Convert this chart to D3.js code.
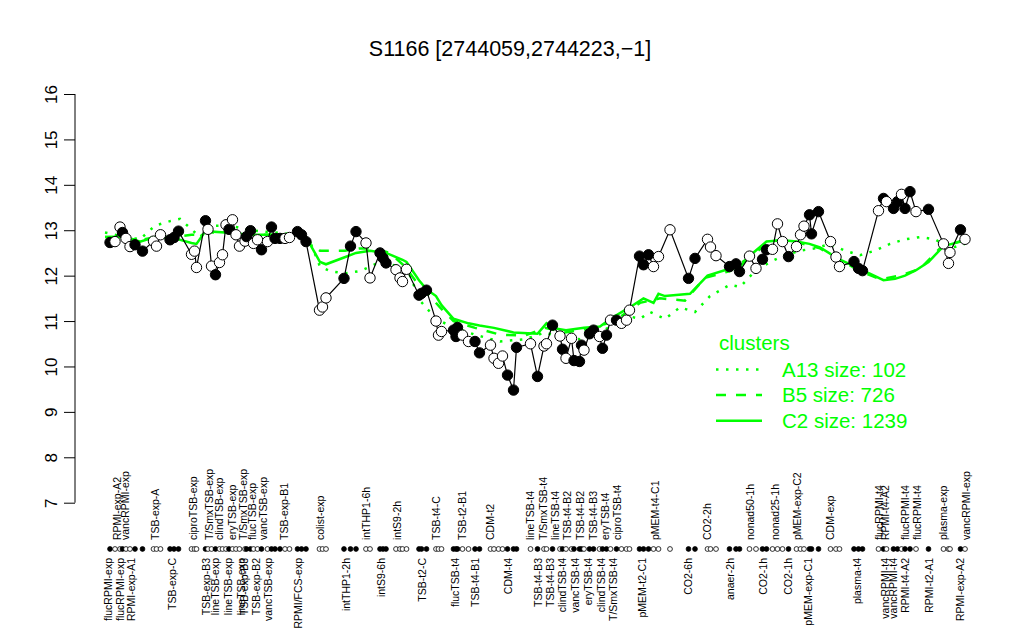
<!DOCTYPE html>
<html>
<head>
<meta charset="utf-8">
<script src="https://cdn.jsdelivr.net/npm/d3@7"></script>
<style>
	body { margin: 0; background: #fff; }
	svg { font-family: "Liberation Sans", Arial, sans-serif; }
</style>
</head>
<body>
<svg id="chart" width="1024" height="640"></svg>
<script>
// sample positions (sorted), values and open/filled flag
var pos = [
	2.0, 3.0, 4.0, 4.5, 5.2, 6.0, 7.0, 8.5, 10.7, 11.3, 12.1, 14.0, 14.8, 15.7, 18.3, 18.9, 19.3,
	21.1, 21.6, 22.3, 23.1, 23.9, 24.5, 25.2, 25.8, 26.5, 27.2, 27.9, 29.0, 29.3, 30.1, 30.7, 31.5,
	32.3, 33.5, 34.3, 35.0, 36.0, 37.0, 37.9, 39.5, 40.3, 41.2, 43.9, 44.5, 45.2, 48.8, 50.1, 51.2,
	53.2, 54.0, 56.0, 56.6, 57.2, 59.2, 60.0, 60.5, 61.3, 63.8, 64.3, 65.3, 67.2, 67.7, 68.3, 70.7,
	71.2, 71.5, 72.5, 73.7, 75.0, 75.9, 78.1, 78.8, 79.7, 80.5, 81.5, 82.7, 83.3, 86.1, 87.5, 88.8,
	89.3, 90.5, 92.0, 92.5, 93.2, 94.3, 94.8, 95.9, 96.3, 96.8, 97.9, 98.7, 99.9, 100.5, 101.3, 102.1,
	103.3, 104.3, 105.3, 105.9, 107.9, 108.7, 109.7, 110.7, 111.7, 114.0, 117.7, 119.0, 121.5, 122.1,
	123.2, 125.9, 127.2, 127.9, 129.9, 131.2, 132.5, 133.3, 134.5, 135.5, 136.5, 137.7, 139.3, 140.1,
	140.8, 141.9, 142.3, 143.7, 146.1, 147.2, 147.9, 150.8, 151.7, 152.5, 155.7, 156.7, 157.3, 158.7,
	159.5, 160.3, 161.0, 162.0, 163.2, 165.7, 168.7, 169.7, 170.0, 172.1, 173.0
];
var val = [
	12.73, 12.75, 13.07, 12.95, 12.82, 12.64, 12.68, 12.54, 12.76, 12.65, 12.90, 12.79, 12.84, 12.98, 12.47, 12.54, 12.18,
	13.21, 13.02, 12.21, 12.02, 12.29, 12.46, 13.12, 13.02, 13.23, 12.90, 12.65, 12.76, 12.86, 12.99, 12.71, 12.79,
	12.57, 12.75, 13.07, 12.82, 12.82, 12.82, 12.84, 12.97, 12.90, 12.75, 11.24, 11.31, 11.51, 11.94, 12.65, 12.97,
	12.72, 11.95, 12.50, 12.39, 12.28, 12.13, 11.95, 11.87, 12.14, 11.57, 11.61, 11.68, 11.00, 10.69, 10.77, 10.80,
	10.66, 10.86, 10.69, 10.55, 10.55, 10.30, 10.47, 10.18, 10.07, 10.23, 9.81, 9.48, 10.42, 10.50, 9.78, 10.45,
	10.50, 10.91, 10.67, 10.38, 10.18, 10.62, 10.13, 10.11, 10.47, 10.36, 10.72, 10.80, 10.66, 10.40, 10.69, 11.02,
	11.02, 10.95, 11.02, 11.24, 12.43, 12.24, 12.46, 12.20, 12.42, 13.01, 11.94, 12.38, 12.80, 12.63,
	12.44, 12.20, 12.26, 12.09, 12.43, 12.16, 12.36, 12.57, 12.58, 13.14, 12.75, 12.42, 12.64, 12.90,
	13.09, 13.34, 12.92, 13.41, 12.75, 12.41, 12.20, 12.31, 12.16, 12.11, 13.43, 13.70, 13.63, 13.48,
	13.63, 13.79, 13.48, 13.85, 13.41, 13.46, 12.70, 12.27, 12.51, 13.01, 12.80
];
var filled = [
	1, 0, 0, 1, 0, 0, 1, 1, 0, 0, 0, 1, 1, 1, 0, 0, 0,
	1, 0, 0, 1, 0, 0, 0, 1, 0, 0, 0, 0, 1, 1, 0, 0,
	1, 0, 1, 1, 1, 0, 0, 1, 1, 1, 0, 0, 0, 1, 1, 1,
	0, 0, 1, 1, 1, 0, 0, 0, 0, 1, 1, 1, 0, 0, 0, 1,
	1, 1, 0, 0, 1, 1, 0, 0, 0, 0, 1, 1, 1, 0, 1, 0,
	0, 1, 0, 1, 0, 0, 1, 1, 1, 0, 1, 1, 0, 1, 1, 0,
	1, 0, 0, 0, 1, 1, 1, 0, 0, 0, 1, 1, 0, 0,
	0, 1, 1, 1, 0, 0, 1, 1, 0, 0, 0, 1, 0, 0,
	0, 1, 1, 1, 0, 0, 0, 1, 1, 1, 0, 1, 0, 1,
	1, 0, 1, 1, 0, 1, 0, 0, 0, 1, 0
];

// cluster profiles
var a13Pos = [1, 5, 8, 11, 14, 16, 18, 20, 22, 26, 30, 35, 40, 42, 44, 46, 49, 52, 56, 60, 62, 64, 66, 68, 71, 75, 80, 85, 89, 92, 96, 100, 104, 106, 108, 110, 113, 116, 119, 122, 126, 128, 131, 134, 137, 140, 143, 146, 149, 152, 155, 158, 161, 164, 167, 170, 173];
var a13Val = [12.95, 12.85, 12.8, 13.1, 13.2, 13.25, 13.05, 12.85, 13.1, 13.1, 13.0, 12.95, 12.9, 12.75, 12.2, 12.1, 12.05, 12.1, 12.3, 12.2, 12.0, 11.45, 11.2, 11.0, 10.85, 10.7, 10.55, 10.6, 10.75, 10.65, 10.6, 10.75, 11.0, 11.1, 11.05, 11.2, 11.05, 11.3, 11.2, 11.55, 11.8, 11.75, 12.1, 12.3, 12.45, 12.55, 12.6, 12.7, 12.55, 12.45, 12.55, 12.7, 12.8, 12.85, 12.8, 12.6, 12.7];
var b5Pos = [1, 4, 8, 11, 15, 18.3, 19.3, 21.1, 25, 30, 35, 40, 41.2, 44, 46, 49, 52, 55, 58, 61, 64, 66, 68, 70.7, 75, 80, 85, 89, 93, 97, 100, 103, 106, 108, 112, 117, 121, 126, 131, 134, 137, 140, 144, 148, 152, 156, 160, 164, 168, 173];
var b5Val = [12.85, 12.85, 12.78, 12.85, 12.85, 12.9, 12.9, 12.95, 12.95, 12.9, 12.9, 12.88, 12.8, 12.55, 12.55, 12.55, 12.6, 12.6, 12.5, 12.2, 11.75, 11.55, 11.3, 11.0, 10.85, 10.7, 10.68, 10.85, 10.75, 10.82, 10.9, 11.0, 11.25, 11.4, 11.5, 11.45, 11.95, 12.1, 12.5, 12.75, 12.8, 12.72, 12.6, 12.35, 12.1, 11.92, 12.0, 12.15, 12.6, 12.8];
var c2Pos = [1, 4, 8, 11, 15, 18.3, 19.3, 21.1, 25, 30, 35, 40, 41.2, 44, 45.2, 48.8, 51.2, 54, 57.2, 60.5, 61.3, 63.8, 65.3, 67.2, 68.3, 70.7, 73.7, 75.9, 78.8, 82.7, 87.5, 89.3, 90.5, 93.2, 96.8, 100, 102.1, 105.9, 108.7, 110.7, 111.7, 113, 118, 121.5, 125.9, 128, 130.6, 133.3, 136.5, 139.3, 141.9, 144, 148, 152.5, 156.7, 159, 161, 163.2, 165.7, 168.7, 172.1, 173];
var c2Val = [12.85, 12.85, 12.75, 12.85, 12.82, 12.72, 12.7, 12.98, 12.95, 12.9, 12.9, 12.9, 12.85, 12.3, 12.25, 12.4, 12.5, 12.55, 12.5, 12.35, 12.3, 11.9, 11.7, 11.55, 11.35, 11.05, 10.95, 10.9, 10.85, 10.75, 10.72, 10.95, 10.85, 10.8, 10.85, 10.88, 11.05, 11.3, 11.5, 11.4, 11.6, 11.55, 11.6, 12.0, 12.15, 12.2, 12.5, 12.75, 12.78, 12.75, 12.7, 12.62, 12.35, 12.12, 11.9, 11.93, 12.0, 12.12, 12.3, 12.65, 12.75, 12.8];

var clusterNames = ["A13 size: 102", "B5 size: 726", "C2 size: 1239"];

// sample labels shown above and below the strip
var topNames = ["RPMI-exp-A2", "vancRPMI-exp", "TSB-exp-A", "ciproTSB-exp", "T/SmxTSB-exp", "clindTSB-exp", "eryTSB-exp", "T/SmxTSB-exp", "flucTSB-exp", "vancTSB-exp", "TSB-exp-B1", "colist-exp", "intTHP1-6h", "intS9-2h", "TSB-t4-C", "TSB-t2-B1", "CDM-t2", "lineTSB-t4", "T/SmxTSB-t4", "lineTSB-t4", "TSB-t4-B2", "TSB-t4-B2", "TSB-t4-B3", "eryTSB-t4", "ciproTSB-t4", "pMEM-t4-C1", "CO2-2h", "nonad50-1h", "nonad25-1h", "pMEM-exp-C2", "CDM-exp", "flucRPMI-t4", "RPMI-t4-A2", "flucRPMI-t4", "flucRPMI-t4", "plasma-exp", "vancRPMI-exp"];
var topPos = [3.4, 5.0, 11.0, 18.6, 21.8, 23.8, 26.4, 28.6, 30.4, 32.6, 36.8, 44.0, 53.2, 59.4, 67.2, 72.4, 78.0, 86.0, 88.6, 91.0, 93.4, 96.0, 98.6, 101.0, 103.4, 111.0, 121.4, 130.0, 135.0, 139.4, 146.0, 155.8, 157.0, 161.0, 163.4, 168.6, 173.2];
var bottomNames = ["flucRPMI-exp", "flucRPMI-exp", "RPMI-exp-A1", "TSB-exp-C", "TSB-exp-B3", "lineTSB-exp", "lineTSB-exp", "lineTSB-exp", "TSB-exp-B3", "TSB-exp-B2", "vancTSB-exp", "RPMI/FCS-exp", "intTHP1-2h", "intS9-6h", "TSB-t2-C", "flucTSB-t4", "TSB-t4-B1", "CDM-t4", "TSB-t4-B3", "TSB-t4-B3", "clindTSB-t4", "vancTSB-t4", "eryTSB-t4", "clindTSB-t4", "T/SmxTSB-t4", "pMEM-t2-C1", "CO2-6h", "anaer-2h", "CO2-1h", "CO2-1h", "pMEM-exp-C1", "plasma-t4", "vancRPMI-t4", "vancRPMI-t4", "RPMI-t4-A2", "RPMI-t2-A1", "RPMI-exp-A2"];
var bottomPos = [1.6, 4.0, 6.2, 14.4, 21.2, 23.0, 25.6, 28.2, 28.8, 31.2, 33.6, 39.6, 49.2, 56.2, 64.4, 71.0, 75.0, 81.6, 87.6, 90.0, 92.4, 95.0, 97.6, 100.2, 102.6, 108.4, 117.6, 126.0, 132.6, 137.6, 141.6, 151.4, 157.0, 158.6, 161.0, 165.8, 172.0];

var yTicks = [7, 8, 9, 10, 11, 12, 13, 14, 15, 16];

var green = "#00ff00";
var svg = d3.select("#chart");

var x = d3.scaleLinear().domain([0, 175]).range([100, 975]);
var y = d3.scaleLinear().domain([7, 16]).range([502.7, 94]);

// title
svg.append("text")
	.attr("x", 510).attr("y", 56)
	.attr("text-anchor", "middle")
	.attr("font-size", 21.5)
	.text("S1166 [2744059,2744223,\u22121]");

// y axis
var yAxis = svg.append("g")
	.attr("transform", "translate(75,0)")
	.call(d3.axisLeft(y).tickValues(yTicks).tickSize(11).tickFormat(d3.format("d")));
yAxis.select(".domain").attr("stroke", "#000").attr("d", "M0," + y(7) + "V" + y(16));
yAxis.selectAll(".tick line").attr("stroke", "#000");
yAxis.selectAll(".tick text")
	.attr("font-size", 17)
	.attr("font-family", "Liberation Sans, Arial, sans-serif")
	.attr("fill", "#000")
	.attr("x", null).attr("dy", null)
	.attr("text-anchor", "middle")
	.attr("transform", "translate(-18,0) rotate(-90)");

// cluster lines
function clusterLine(ps, vs) {
	return d3.line()
		.x(function (d, i) { return x(ps[i]); })
		.y(function (d) { return y(d); })(vs);
}
var clusterStyles = [
	{ pos: a13Pos, val: a13Val, dash: "2.5,7.5" },
	{ pos: b5Pos, val: b5Val, dash: "10,10" },
	{ pos: c2Pos, val: c2Val, dash: null }
];
clusterStyles.forEach(function (c) {
	svg.append("path")
		.attr("d", clusterLine(c.pos, c.val))
		.attr("fill", "none")
		.attr("stroke", green)
		.attr("stroke-width", 2.5)
		.attr("stroke-dasharray", c.dash);
});

// sample line and points
svg.append("path")
	.attr("d", d3.line().x(function (d, i) { return x(pos[i]); }).y(function (d) { return y(d); })(val))
	.attr("fill", "none")
	.attr("stroke", "#000")
	.attr("stroke-width", 1.2);

svg.append("g").selectAll("circle")
	.data(val)
	.enter()
		.append("circle")
			.attr("cx", function (d, i) { return x(pos[i]); })
			.attr("cy", function (d) { return y(d); })
			.attr("r", 5.2)
			.attr("fill", function (d, i) { return filled[i] ? "#000" : "#fff"; })
			.attr("stroke", "#000")
			.attr("stroke-width", 1);

// strip of sample markers
svg.append("g").selectAll("circle")
	.data(pos)
	.enter()
		.append("circle")
			.attr("cx", function (d) { return x(d); })
			.attr("cy", 549)
			.attr("r", 2.4)
			.attr("fill", function (d, i) { return filled[i] ? "#000" : "#fff"; })
			.attr("stroke", "#000")
			.attr("stroke-width", 0.8);

// labels
svg.append("g").selectAll("text")
	.data(topNames)
	.enter()
		.append("text")
			.attr("transform", function (d, i) { return "translate(" + (x(topPos[i]) + 4) + ",540) rotate(-90)"; })
			.attr("text-anchor", "start")
			.attr("font-size", 10.5)
			.text(function (d) { return d; });

svg.append("g").selectAll("text")
	.data(bottomNames)
	.enter()
		.append("text")
			.attr("transform", function (d, i) { return "translate(" + (x(bottomPos[i]) + 4) + ",558) rotate(-90)"; })
			.attr("text-anchor", "end")
			.attr("font-size", 10.5)
			.text(function (d) { return d; });

// legend
var legend = svg.append("g").attr("transform", "translate(716,0)");
legend.append("text")
	.attr("x", 3).attr("y", 350)
	.attr("fill", green)
	.attr("font-size", 20.5)
	.text("clusters");
clusterStyles.forEach(function (c, i) {
	var ly = 369.5 + i * 25.6;
	legend.append("line")
		.attr("x1", 0).attr("x2", 46)
		.attr("y1", ly).attr("y2", ly)
		.attr("stroke", green)
		.attr("stroke-width", 2.5)
		.attr("stroke-dasharray", c.dash);
	legend.append("text")
		.attr("x", 66).attr("y", ly + 7)
		.attr("fill", green)
		.attr("font-size", 20.5)
		.text(clusterNames[i]);
});
</script>
</body>
</html>
